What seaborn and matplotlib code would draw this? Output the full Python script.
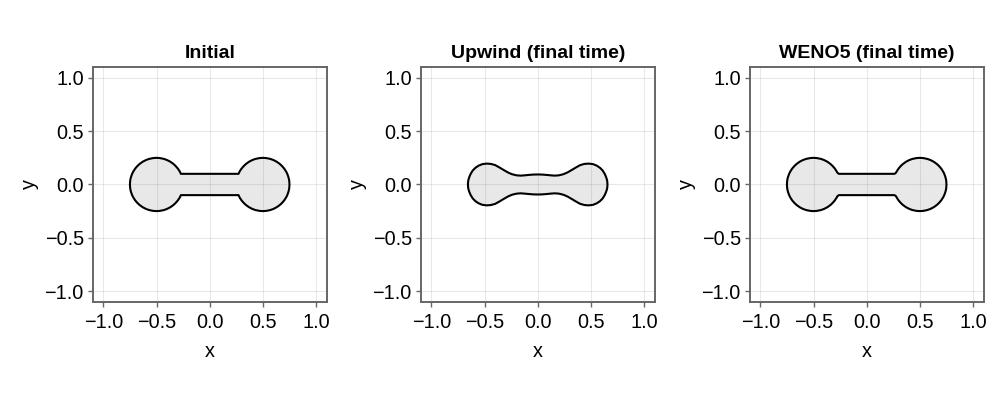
"""Level-set dumbbell: initial shape vs. upwind and WENO5 at final time"""

import numpy as np
import matplotlib
matplotlib.use("Agg")
import matplotlib.pyplot as plt
import seaborn as sns

titles = ["Initial", "Upwind (final time)", "WENO5 (final time)"]
tick_values = [-1.0, -0.5, 0.0, 0.5, 1.0]
tick_labels = ["\u22121.0", "\u22120.5", "0.0", "0.5", "1.0"]

# upper half-boundary of each shape, left half only (shapes are symmetric in x and y)
initial_x = [-0.75, -0.748, -0.745, -0.74, -0.73, -0.72, -0.70, -0.68, -0.66, -0.63,
             -0.60, -0.57, -0.53, -0.50, -0.47, -0.43, -0.40, -0.37, -0.34, -0.32,
             -0.30, -0.285, -0.278, -0.271, -0.20, -0.10, 0.0]
initial_h = [0.0, 0.032, 0.050, 0.070, 0.098, 0.119, 0.150, 0.173, 0.192, 0.2135,
             0.229, 0.240, 0.248, 0.250, 0.248, 0.240, 0.229, 0.2135, 0.192, 0.173,
             0.150, 0.128, 0.115, 0.100, 0.100, 0.100, 0.100]

upwind_x = [-0.656, -0.654, -0.650, -0.643, -0.630, -0.610, -0.585, -0.555, -0.520, -0.480,
            -0.440, -0.400, -0.360, -0.320, -0.280, -0.260, -0.240, -0.200, -0.160, -0.120,
            -0.080, -0.040, 0.0]
upwind_h = [0.0, 0.030, 0.048, 0.070, 0.100, 0.132, 0.157, 0.177, 0.191, 0.196,
            0.193, 0.182, 0.160, 0.136, 0.113, 0.104, 0.096, 0.086, 0.083, 0.086,
            0.090, 0.093, 0.094]

weno5_x = [-0.75, -0.748, -0.745, -0.74, -0.73, -0.72, -0.70, -0.68, -0.66, -0.63,
           -0.60, -0.57, -0.53, -0.50, -0.47, -0.43, -0.40, -0.37, -0.34, -0.32,
           -0.30, -0.285, -0.275, -0.262, -0.20, -0.10, 0.0]
weno5_h = [0.0, 0.032, 0.050, 0.070, 0.098, 0.119, 0.150, 0.173, 0.192, 0.2135,
           0.229, 0.240, 0.248, 0.250, 0.248, 0.240, 0.229, 0.2135, 0.192, 0.173,
           0.150, 0.127, 0.110, 0.100, 0.100, 0.100, 0.100]

profiles = [(initial_x, initial_h), (upwind_x, upwind_h), (weno5_x, weno5_h)]

sns.set_theme(style="whitegrid")
plt.rcParams["font.family"] = ["Liberation Sans", "DejaVu Sans"]
plt.rcParams["text.color"] = "black"

spine_color = "#666666"

fig = plt.figure(figsize=(10, 4), dpi=100)
lefts = [0.0927, 0.4207, 0.7497]

for left, title, (px, ph) in zip(lefts, titles, profiles):
    ax = fig.add_axes([left, 0.2458, 0.234, 0.586])

    # mirror the left half to get the full outline
    px = np.asarray(px)
    ph = np.asarray(ph)
    x_full = np.concatenate([px, -px[::-1][1:]])
    h_full = np.concatenate([ph, ph[::-1][1:]])

    ax.fill_between(x_full, -h_full, h_full, color="gray", alpha=0.18, linewidth=0, zorder=2)

    outline_x = np.concatenate([x_full, x_full[::-1]])
    outline_y = np.concatenate([h_full, -h_full[::-1]])
    sns.lineplot(x=outline_x, y=outline_y, sort=False, estimator=None,
                 color="black", linewidth=1.5, ax=ax, zorder=3)

    ax.set_xlim(-1.1, 1.1)
    ax.set_ylim(-1.1, 1.1)
    ax.set_xticks(tick_values)
    ax.set_xticklabels(tick_labels)
    ax.set_yticks(tick_values)
    ax.set_yticklabels(tick_labels)
    ax.grid(True, color="black", alpha=0.09, linewidth=0.8)
    ax.set_axisbelow(True)

    for spine in ax.spines.values():
        spine.set_color(spine_color)
        spine.set_linewidth(1.4)

    ax.tick_params(axis="both", which="major", bottom=True, left=True, direction="out",
                   length=3.5, width=1, color=spine_color, labelsize=14.3,
                   labelcolor="black", pad=3)
    ax.tick_params(axis="x", pad=4.5)

    ax.set_title(title, fontsize=14, fontweight="bold", color="black", pad=6.5)
    ax.set_xlabel("x", fontsize=14.3, color="black", labelpad=7)
    ax.set_ylabel("y", fontsize=14.3, color="black", labelpad=4)

fig.savefig("out.png", dpi=100)
plt.close(fig)
